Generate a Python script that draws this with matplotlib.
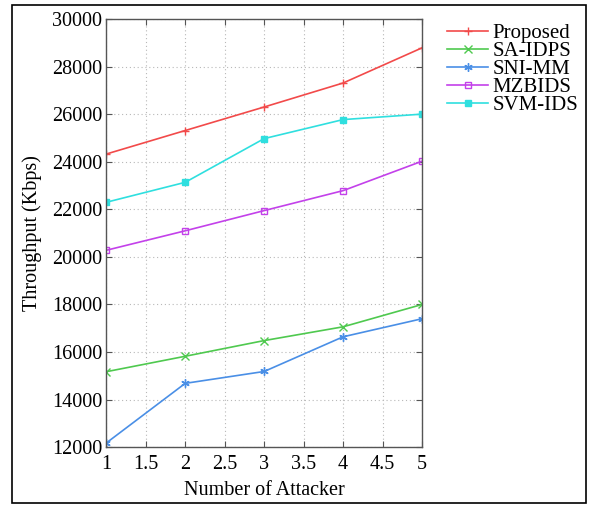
import matplotlib
matplotlib.use("Agg")
import matplotlib.pyplot as plt
from matplotlib.patches import Rectangle

plt.rcParams["font.family"] = ["Liberation Serif", "DejaVu Serif"]

# data
attackers = [1, 2, 3, 4, 5]
proposed = [24330, 25320, 26310, 27320, 28800]
sa_idps = [15170, 15820, 16480, 17060, 18000]
sni_mm = [12170, 14680, 15180, 16640, 17400]
mzbids = [20280, 21100, 21950, 22790, 24030]
svm_ids = [22300, 23140, 24980, 25780, 26010]

# asterisk marker like matlab '*'
asterisk = (6, 2, 0)

series = [
    ("Proposed", proposed, "#f24a4a", "+", "none"),
    ("SA-IDPS", sa_idps, "#4fc94f", "x", "none"),
    ("SNI-MM", sni_mm, "#4a8fe6", asterisk, "none"),
    ("MZBIDS", mzbids, "#c341ea", "s", "none"),
    ("SVM-IDS", svm_ids, "#2fdfdf", "s", "fill"),
]

fig = plt.figure(figsize=(5.97, 5.08), dpi=100)
ax = fig.add_axes([0.178, 0.120, 0.529, 0.842])

for label, vals, color, marker, fill in series:
    ax.plot(attackers, vals, color=color, lw=1.2, marker=marker,
            markersize=6 if marker != "s" else 5,
            markerfacecolor=color if fill == "fill" else "none",
            markeredgecolor=color, markeredgewidth=1.0, label=label)

ax.set_xlim(1, 5)
ax.set_ylim(12000, 30000)
ax.set_xticks([1, 1.5, 2, 2.5, 3, 3.5, 4, 4.5, 5])
ax.set_xticklabels(["1", "1.5", "2", "2.5", "3", "3.5", "4", "4.5", "5"])
ax.set_yticks(range(12000, 30001, 2000))
ax.grid(True, linestyle=(0, (1, 2.5)), color="#b8b8b8", lw=0.8)
ax.tick_params(direction="in", top=True, right=True, labelsize=14.5,
               length=4, color="#555555")
ax.tick_params(axis="x", pad=6)
ax.tick_params(axis="y", pad=3)
for sp in ax.spines.values():
    sp.set_color("#555555")
    sp.set_linewidth(1.0)

ax.set_xlabel("Number of Attacker", fontsize=14.5, labelpad=5)
ax.set_ylabel("Throughput (Kbps)", fontsize=14.5, labelpad=7)

ax.legend(loc="upper left", bbox_to_anchor=(1.078, 0.99), frameon=False,
          fontsize=15, handlelength=2.0, handletextpad=0.2,
          labelspacing=-0.08, borderaxespad=0.0, borderpad=0.0)

fig.patches.append(Rectangle((12 / 597, 5 / 508), 574 / 597, 498 / 508,
                             transform=fig.transFigure, fill=False,
                             edgecolor="black", lw=1.2))

fig.savefig("out.png", dpi=100)
